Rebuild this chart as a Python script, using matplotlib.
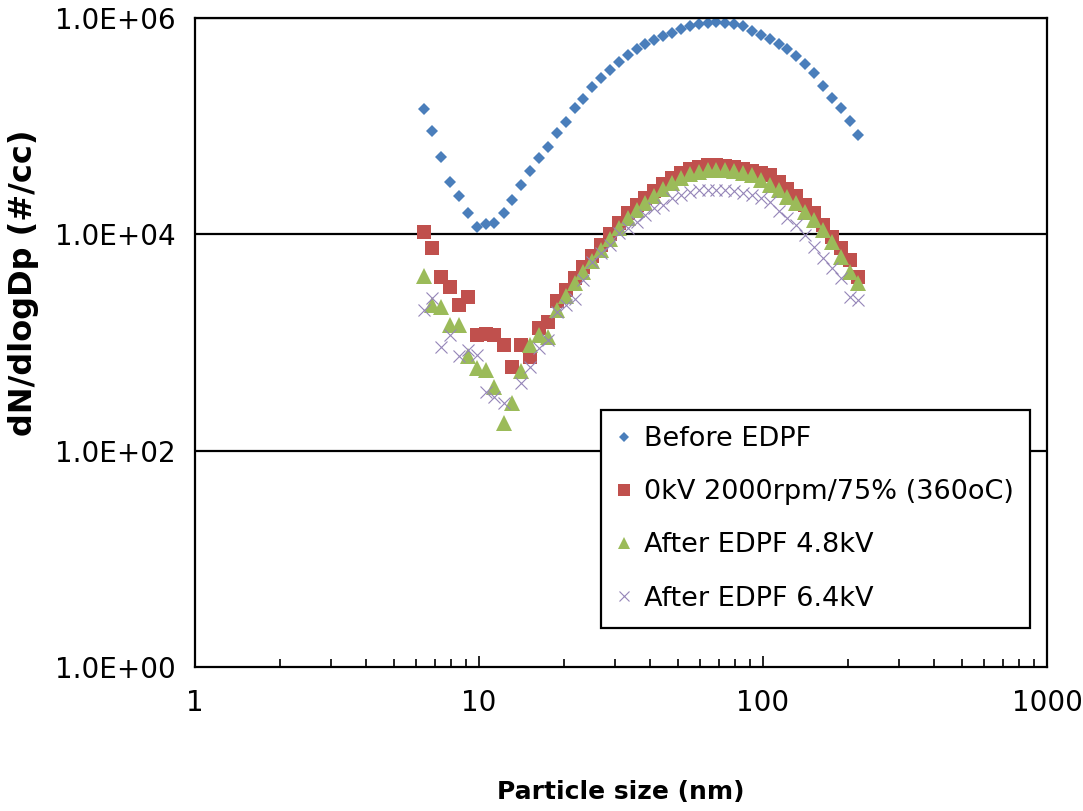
import numpy as np
import matplotlib
matplotlib.use("Agg")
import matplotlib.pyplot as plt
from matplotlib.ticker import LogLocator, FixedLocator, FuncFormatter, NullLocator

plt.rcParams['font.family'] = ['DejaVu Sans']

# Diametros SMPS (nm), 32 canales por decada
diam = [6.38, 6.85, 7.37, 7.91, 8.51, 9.14, 9.82, 10.6, 11.3, 12.2,
        13.1, 14.1, 15.1, 16.3, 17.5, 18.8, 20.2, 21.7, 23.3, 25.0,
        26.9, 28.9, 31.1, 33.4, 35.9, 38.5, 41.4, 44.5, 47.8, 51.4,
        55.2, 59.4, 63.8, 68.5, 73.7, 79.1, 85.1, 91.4, 98.2, 105.5,
        113.4, 121.9, 131.0, 140.7, 151.2, 162.5, 174.7, 187.7, 201.7, 216.7]

before_edpf = [1.44e5, 9.0e4, 5.14e4, 3.06e4, 2.25e4, 1.56e4, 1.17e4, 1.24e4, 1.28e4, 1.56e4,
               2.07e4, 2.85e4, 3.87e4, 5.03e4, 6.44e4, 8.56e4, 1.10e5, 1.46e5, 1.80e5, 2.28e5,
               2.76e5, 3.29e5, 3.93e5, 4.53e5, 5.12e5, 5.73e5, 6.24e5, 6.79e5, 7.28e5, 7.88e5,
               8.40e5, 8.76e5, 9.01e5, 9.20e5, 9.08e5, 8.89e5, 8.40e5, 7.60e5, 6.93e5, 6.33e5,
               5.81e5, 5.12e5, 4.44e5, 3.74e5, 3.07e5, 2.34e5, 1.84e5, 1.46e5, 1.11e5, 8.26e4]

kv0 = [1.04e4, 7.4e3, 4.05e3, 3.23e3, 2.22e3, 2.64e3, 1.17e3, 1.21e3, 1.17e3, 946,
       596, 946, 738, 1.36e3, 1.54e3, 2.41e3, 3.05e3, 3.94e3, 4.98e3, 6.29e3,
       7.95e3, 1.00e4, 1.27e4, 1.57e4, 1.86e4, 2.16e4, 2.51e4, 2.91e4, 3.31e4, 3.68e4,
       4.01e4, 4.18e4, 4.36e4, 4.36e4, 4.27e4, 4.18e4, 4.01e4, 3.84e4, 3.68e4, 3.52e4,
       3.04e4, 2.62e4, 2.25e4, 1.86e4, 1.57e4, 1.22e4, 9.43e3, 7.45e3, 5.78e3, 4.02e3]

kv48 = [4.11e3, 2.22e3, 2.11e3, 1.45e3, 1.45e3, 749, 576, 556, 390, 181,
        274, 548, 946, 1.17e3, 1.13e3, 1.99e3, 2.68e3, 3.54e3, 4.48e3, 5.65e3,
        7.14e3, 9.03e3, 1.14e4, 1.41e4, 1.67e4, 1.94e4, 2.25e4, 2.62e4, 2.97e4, 3.31e4,
        3.60e4, 3.76e4, 3.92e4, 3.92e4, 3.92e4, 3.84e4, 3.68e4, 3.52e4, 3.17e4, 2.85e4,
        2.56e4, 2.21e4, 1.94e4, 1.60e4, 1.35e4, 1.09e4, 8.47e3, 6.15e3, 4.48e3, 3.54e3]

kv64 = [1.99e3, 2.57e3, 906, 1.17e3, 749, 851, 765, 348, 313, 275,
        np.nan, 422, 593, 888, 1.05e3, 1.91e3, 2.22e3, 2.52e3, 3.78e3, 5.53e3,
        6.70e3, 7.95e3, 1.03e4, 1.14e4, 1.30e4, 1.50e4, 1.75e4, 1.86e4, 2.16e4, 2.30e4,
        2.45e4, 2.56e4, 2.56e4, 2.56e4, 2.56e4, 2.51e4, 2.40e4, 2.30e4, 2.16e4, 1.99e4,
        1.64e4, 1.41e4, 1.22e4, 9.84e3, 7.62e3, 6.03e3, 4.87e3, 3.94e3, 2.63e3, 2.47e3]

labels = ['Before EDPF', '0kV 2000rpm/75% (360oC)', 'After EDPF 4.8kV', 'After EDPF 6.4kV']

W, H = 1083, 811
fig = plt.figure(figsize=(W / 100, H / 100), dpi=100)
ax = fig.add_axes([195 / W, 1 - 667 / H, (1047 - 195) / W, (667 - 18) / H])

ax.plot(diam, before_edpf, ls='none', marker='D', ms=6.5, color='#4A7EBB', mew=0, label=labels[0])
ax.plot(diam, kv0, ls='none', marker='s', ms=10, color='#C0504D', mew=0, label=labels[1])
ax.plot(diam, kv48, ls='none', marker='^', ms=11, color='#9BBB59', mew=0, label=labels[2])
ax.plot(diam, kv64, ls='none', marker='x', ms=8.5, color='#9585B8', mew=0.8, label=labels[3])

ax.set_xscale('log')
ax.set_yscale('log')
ax.set_xlim(1, 1000)
ax.set_ylim(1, 1e6)

# Eje Y
ax.yaxis.set_major_locator(FixedLocator([1, 1e2, 1e4, 1e6]))
ax.yaxis.set_minor_locator(NullLocator())
ax.yaxis.set_major_formatter(FuncFormatter(lambda v, p: f"{v:.1E}"))
ax.tick_params(axis='y', length=0, pad=14, labelsize=20)
for yv in [1e2, 1e4, 1e6]:
    ax.axhline(yv, color='black', lw=1.6, zorder=0.5)

# Eje X
ax.xaxis.set_major_locator(FixedLocator([1, 10, 100, 1000]))
ax.xaxis.set_major_formatter(FuncFormatter(lambda v, p: f"{int(round(v))}"))
ax.xaxis.set_minor_locator(LogLocator(base=10, subs=np.arange(2, 10)))
ax.tick_params(axis='x', which='major', direction='in', length=8, width=1.2, pad=16, labelsize=20)
ax.tick_params(axis='x', which='minor', direction='in', length=5.5, width=1.2)

for s in ax.spines.values():
    s.set_linewidth(1.6)
    s.set_color('black')

fig.text(621 / W, 1 - 792 / H, 'Particle size (nm)', ha='center', va='center',
         fontsize=18, fontweight='bold')
fig.text(24 / W, 1 - 283 / H, 'dN/dlogDp (#/cc)', ha='center', va='center',
         rotation=90, fontsize=23, fontweight='bold')

leg = ax.legend(loc='upper left', bbox_to_anchor=(601 / W, 1 - 410 / H),
                bbox_transform=fig.transFigure, borderaxespad=0,
                fontsize=19.5, frameon=True, fancybox=False, framealpha=1,
                edgecolor='black', handlelength=0.5, handletextpad=0.5,
                borderpad=0.6, labelspacing=1.0, markerscale=0.8)
leg.get_frame().set_linewidth(1.6)

fig.savefig('out.png', dpi=100)
